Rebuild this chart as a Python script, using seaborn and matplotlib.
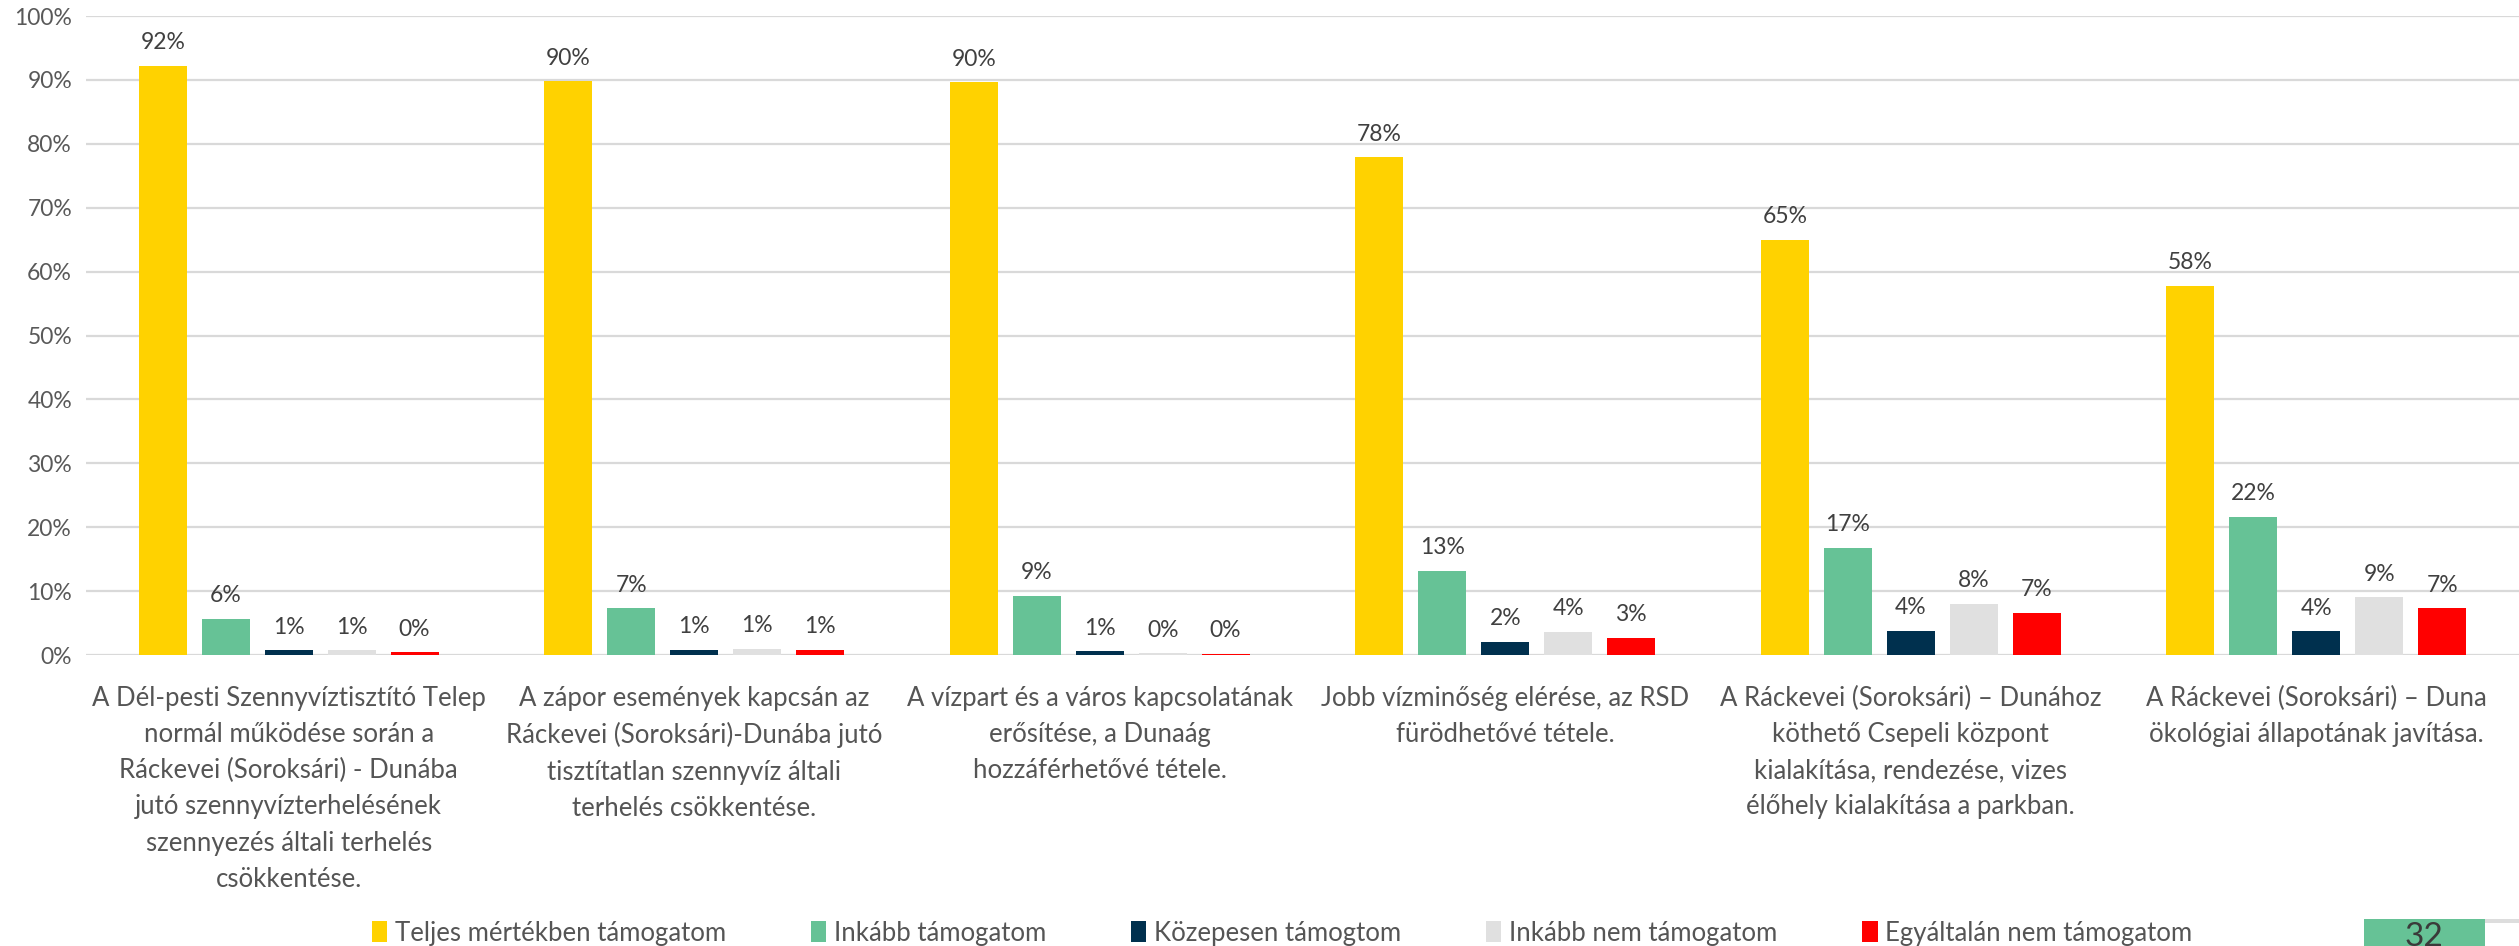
import matplotlib
matplotlib.use("Agg")
import matplotlib.pyplot as plt
import seaborn as sns
import pandas as pd
from matplotlib.patches import Rectangle

categories = [
    "A Dél-pesti Szennyvíztisztító Telep\nnormál működése során a\nRáckevei (Soroksári) - Dunába\njutó szennyvízterhelésének\nszennyezés általi terhelés\ncsökkentése.",
    "A zápor események kapcsán az\nRáckevei (Soroksári)-Dunába jutó\ntisztítatlan szennyvíz általi\nterhelés csökkentése.",
    "A vízpart és a város kapcsolatának\nerősítése, a Dunaág\nhozzáférhetővé tétele.",
    "Jobb vízminőség elérése, az RSD\nfürödhetővé tétele.",
    "A Ráckevei (Soroksári) – Dunához\nköthető Csepeli központ\nkialakítása, rendezése, vizes\nélőhely kialakítása a parkban.",
    "A Ráckevei (Soroksári) – Duna\nökológiai állapotának javítása.",
]
series = ["Teljes mértékben támogatom", "Inkább támogatom", "Közepesen támogtom",
          "Inkább nem támogatom", "Egyáltalán nem támogatom"]
teljes = [0.922, 0.898, 0.896, 0.779, 0.650, 0.578]
inkabb = [0.057, 0.073, 0.093, 0.132, 0.168, 0.216]
kozepesen = [0.0075, 0.008, 0.006, 0.021, 0.038, 0.037]
inkabb_nem = [0.0075, 0.010, 0.003, 0.036, 0.080, 0.090]
egyaltalan = [0.004, 0.008, 0.002, 0.027, 0.066, 0.073]
colors = ["#FFD200", "#66C296", "#00304E", "#E0E0E0", "#FF0000"]
yticks = [0, 0.1, 0.2, 0.3, 0.4, 0.5, 0.6, 0.7, 0.8, 0.9, 1.0]
page_number = "32"

rows = []
for s, vals in zip(series, [teljes, inkabb, kozepesen, inkabb_nem, egyaltalan]):
    for c, v in zip(categories, vals):
        rows.append({"cat": c, "series": s, "val": v})
df = pd.DataFrame(rows)

sns.set_theme(style="white")
plt.rcParams["font.family"] = ["Lato", "DejaVu Sans"]

fig = plt.figure(figsize=(25.19, 9.46), dpi=100)
ax = fig.add_axes([86 / 2519, 1 - 655 / 946, 1 - 86 / 2519, (655 - 16) / 946])

sns.barplot(data=df, x="cat", y="val", hue="series", hue_order=series, order=categories,
            palette=colors, width=0.776, gap=0.24, saturation=1, ax=ax, legend=False,
            errorbar=None, linewidth=0)

ax.set_ylim(0, 1)
ax.set_xlim(-0.5, len(categories) - 0.5)
ax.set_yticks(yticks)
ax.set_yticklabels([f"{int(round(t*100))}%" for t in yticks], fontsize=16.5, color="#595959")
ax.yaxis.grid(True, color="#D9D9D9", linewidth=1.6)
ax.set_axisbelow(True)
for sp in ax.spines.values():
    sp.set_visible(False)
ax.tick_params(axis="y", length=0, pad=10)
ax.tick_params(axis="x", length=0, pad=22)
ax.set_xticks(range(len(categories)))
ax.set_xticklabels(categories, fontsize=18.5, color="#555555", linespacing=1.56, va="top")
ax.set_xlabel("")
ax.set_ylabel("")

for cont in ax.containers:
    labels = [f"{int(round(b.get_height()*100))}%" for b in cont]
    ax.bar_label(cont, labels=labels, padding=9, fontsize=16.5, color="#404040")

handles = [Rectangle((0, 0), 1, 1, facecolor=c, edgecolor="none") for c in colors]
fig.legend(handles, series, loc="center", bbox_to_anchor=(1282 / 2519, 1 - 933 / 946),
           ncol=5, frameon=False, fontsize=18.5, handlelength=0.6, handleheight=0.85,
           handletextpad=0.3, columnspacing=3.3, labelcolor="#555555")

fig.patches.append(Rectangle((2364 / 2519, 0), (2485 - 2364) / 2519, 27 / 946,
                             transform=fig.transFigure, facecolor="#66C296", edgecolor="none"))
fig.patches.append(Rectangle((2485 / 2519, 23 / 946), 34 / 2519, 4 / 946,
                             transform=fig.transFigure, facecolor="#DDDDDD", edgecolor="none"))
fig.text(2424 / 2519, -6 / 946, page_number, ha="center", va="bottom", fontsize=24, color="#3A3A3A")

fig.savefig("out.png", dpi=100)
